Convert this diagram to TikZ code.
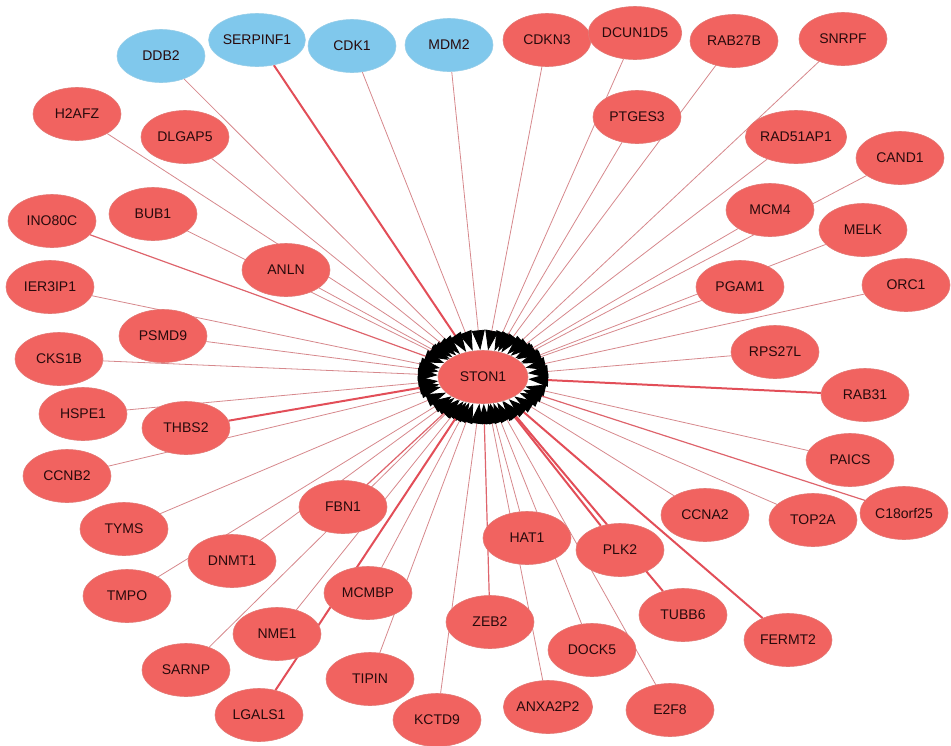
\documentclass[tikz,border=0pt]{standalone}
\usepackage{fontspec}
\setmainfont{Liberation Sans}
\usetikzlibrary{shapes.geometric,arrows.meta,backgrounds}

\definecolor{genefill}{RGB}{241,99,96}
\definecolor{genedraw}{RGB}{226,120,116}
\definecolor{seedfill}{RGB}{128,200,236}
\definecolor{seeddraw}{RGB}{150,205,232}
\definecolor{labeltext}{RGB}{40,10,12}
\definecolor{linkthin}{RGB}{214,136,140}
\definecolor{linkmid}{RGB}{222,100,108}
\definecolor{linkthick}{RGB}{226,78,88}

\tikzset{
  gene/.style={ellipse, draw=genedraw, line width=0.6pt, fill=genefill,
    minimum width=88pt, minimum height=53pt, inner sep=0pt,
    text=labeltext, font=\fontsize{14}{16}\selectfont},
  seedgene/.style={gene, draw=seeddraw, fill=seedfill},
  hubgene/.style={gene, minimum width=90pt, minimum height=53pt},
  link/.style={draw=linkthin, line width=0.8pt,
    -{Triangle[length=20pt,width=13pt,color=black]}},
  midlink/.style={link, draw=linkmid, line width=1.2pt},
  heavylink/.style={link, draw=linkthick, line width=2pt},
}

\begin{document}
\begin{tikzpicture}[x=1pt,y=-1pt]
\useasboundingbox (0,0) rectangle (951,745);

% hub
\node[hubgene] (STON1) at (483,377) {STON1};

% seed genes
\node[seedgene] (DDB2)     at (161,56) {DDB2};
\node[seedgene] (SERPINF1) at (257,40) {SERPINF1};
\node[seedgene] (CDK1)     at (352,46) {CDK1};
\node[seedgene] (MDM2)     at (449,45) {MDM2};

% partner genes
\node[gene] (CDKN3)    at (547,40)  {CDKN3};
\node[gene] (DCUN1D5)  at (635,33)  {DCUN1D5};
\node[gene] (RAB27B)   at (734,41)  {RAB27B};
\node[gene] (SNRPF)    at (843,39)  {SNRPF};
\node[gene] (H2AFZ)    at (77,114)  {H2AFZ};
\node[gene] (DLGAP5)   at (185,137) {DLGAP5};
\node[gene] (PTGES3)   at (637,117) {PTGES3};
\node[gene] (RAD51AP1) at (796,137) {RAD51AP1};
\node[gene] (CAND1)    at (900,158) {CAND1};
\node[gene] (INO80C)   at (52,221)  {INO80C};
\node[gene] (BUB1)     at (153,214) {BUB1};
\node[gene] (MCM4)     at (770,210) {MCM4};
\node[gene] (MELK)     at (863,230) {MELK};
\node[gene] (ANLN)     at (286,270) {ANLN};
\node[gene] (IER3IP1)  at (50,287)  {IER3IP1};
\node[gene] (PGAM1)    at (740,287) {PGAM1};
\node[gene] (ORC1)     at (906,285) {ORC1};
\node[gene] (PSMD9)    at (163,336) {PSMD9};
\node[gene] (CKS1B)    at (59,359)  {CKS1B};
\node[gene] (RPS27L)   at (775,352) {RPS27L};
\node[gene] (HSPE1)    at (83,414)  {HSPE1};
\node[gene] (THBS2)    at (186,428) {THBS2};
\node[gene] (RAB31)    at (865,395) {RAB31};
\node[gene] (CCNB2)    at (67,476)  {CCNB2};
\node[gene] (PAICS)    at (850,460) {PAICS};
\node[gene] (FBN1)     at (343,507) {FBN1};
\node[gene] (TYMS)     at (124,529) {TYMS};
\node[gene] (C18orf25) at (904,513) {C18orf25};
\node[gene] (TOP2A)    at (813,520) {TOP2A};
\node[gene] (CCNA2)    at (705,515) {CCNA2};
\node[gene] (HAT1)     at (527,538) {HAT1};
\node[gene] (PLK2)     at (620,550) {PLK2};
\node[gene] (DNMT1)    at (232,561) {DNMT1};
\node[gene] (MCMBP)    at (368,593) {MCMBP};
\node[gene] (TMPO)     at (127,596) {TMPO};
\node[gene] (TUBB6)    at (683,615) {TUBB6};
\node[gene] (ZEB2)     at (490,622) {ZEB2};
\node[gene] (NME1)     at (277,634) {NME1};
\node[gene] (FERMT2)   at (788,640) {FERMT2};
\node[gene] (DOCK5)    at (592,650) {DOCK5};
\node[gene] (SARNP)    at (186,670) {SARNP};
\node[gene] (TIPIN)    at (370,679) {TIPIN};
\node[gene] (ANXA2P2)  at (548,707) {ANXA2P2};
\node[gene] (E2F8)     at (670,710) {E2F8};
\node[gene] (LGALS1)   at (259,715) {LGALS1};
\node[gene] (KCTD9)    at (437,720) {KCTD9};

% interactions, all pointing into the hub
\begin{pgfonlayer}{background}
\foreach \g in {DDB2,CDK1,MDM2,CDKN3,DCUN1D5,RAB27B,SNRPF,H2AFZ,DLGAP5,
  PTGES3,RAD51AP1,CAND1,BUB1,MCM4,MELK,ANLN,IER3IP1,PGAM1,ORC1,PSMD9,
  CKS1B,RPS27L,HSPE1,CCNB2,PAICS,TYMS,TOP2A,CCNA2,HAT1,DNMT1,MCMBP,TMPO,
  NME1,DOCK5,SARNP,TIPIN,ANXA2P2,E2F8,KCTD9}
  \draw[link] (\g) -- (STON1);
\foreach \g in {INO80C,ZEB2,C18orf25,FBN1}
  \draw[midlink] (\g) -- (STON1);
\foreach \g in {SERPINF1,THBS2,RAB31,LGALS1,PLK2,TUBB6,FERMT2}
  \draw[heavylink] (\g) -- (STON1);
\end{pgfonlayer}
\end{tikzpicture}
\end{document}
